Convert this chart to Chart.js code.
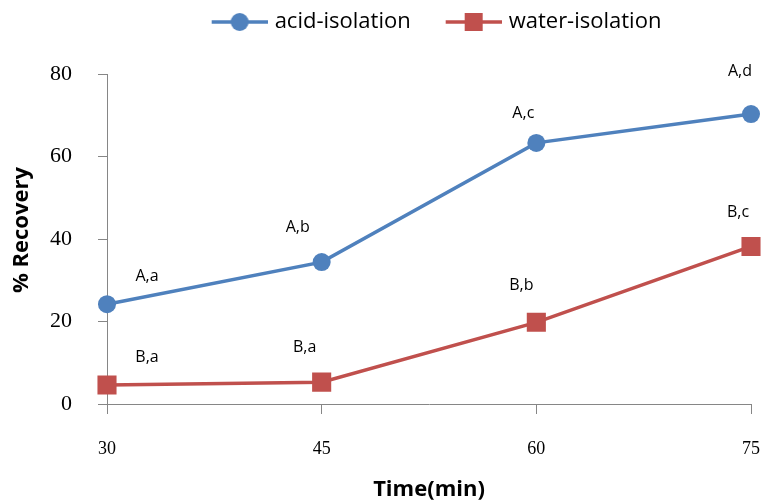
<!DOCTYPE html>
<html>
<head>
<meta charset="utf-8">
<script src="https://cdn.jsdelivr.net/npm/chart.js@4.4.0/dist/chart.umd.min.js"></script>
<style>
  html, body { margin: 0; padding: 0; background: #fff; }
  #wrap { width: 763px; height: 504px; position: relative; }
</style>
</head>
<body>
<div id="wrap"><canvas id="recoveryChart"></canvas></div>
<script>
const times = ['30', '45', '60', '75'];
const acidRecovery = [24.2, 34.4, 63.3, 70.3];
const waterRecovery = [4.6, 5.3, 19.8, 38.2];
const acidLabels = ['A,a', 'A,b', 'A,c', 'A,d'];
const waterLabels = ['B,a', 'B,a', 'B,b', 'B,c'];
const yTitle = '% Recovery';

const BLUE = '#4F81BD';
const RED = '#C0504D';
const AXIS = '#868686';

// pixel offsets of the letter labels from their points
const acidOffsets = [[40, -28], [-24, -35], [-13, -29], [-11, -43]];
const waterOffsets = [[40, -28], [-17, -35], [-15, -37], [-13, -34]];

// legend marker: transparent gap on the left, then line with marker
function legendMarker(color, shape) {
  const c = document.createElement('canvas');
  c.width = 84; c.height = 22;
  const g = c.getContext('2d');
  g.strokeStyle = color;
  g.lineWidth = 3.5;
  g.beginPath(); g.moveTo(28, 11); g.lineTo(84, 11); g.stroke();
  g.fillStyle = color;
  if (shape === 'circle') {
    g.beginPath(); g.arc(56, 11, 9, 0, Math.PI * 2); g.fill();
  } else {
    g.fillRect(47, 2, 18, 18);
  }
  return c;
}

const letterLabels = {
  id: 'letterLabels',
  afterLayout(chart) {
    // legend sits right of centre in the original
    chart.legend.left += 43;
    chart.legend.right += 43;
  },
  afterDatasetsDraw(chart) {
    const ctx = chart.ctx;
    const sets = [[acidLabels, acidOffsets], [waterLabels, waterOffsets]];
    ctx.save();
    ctx.font = '16px "Open Sans"';
    ctx.fillStyle = '#000';
    ctx.textAlign = 'center';
    ctx.textBaseline = 'middle';
    sets.forEach(([labels, offs], di) => {
      chart.getDatasetMeta(di).data.forEach((pt, i) => {
        ctx.fillText(labels[i], pt.x + offs[i][0], pt.y + offs[i][1]);
      });
    });
    // y axis title, a bit above the middle of the plot as in the original
    ctx.translate(22, 230);
    ctx.rotate(-Math.PI / 2);
    ctx.font = 'bold 22px "Open Sans"';
    ctx.fillText(yTitle, 0, 0);
    ctx.restore();
  }
};

const legendSpace = {
  id: 'legendSpace',
  beforeInit(chart) {
    const fit = chart.legend.fit;
    chart.legend.fit = function () {
      fit.bind(chart.legend)();
      this.height += 31;
    };
  }
};

const ctx = document.getElementById('recoveryChart').getContext('2d');
new Chart(ctx, {
  type: 'line',
  data: {
    labels: times,
    datasets: [{
      label: 'acid-isolation',
      data: acidRecovery,
      borderColor: BLUE,
      backgroundColor: BLUE,
      borderWidth: 3.5,
      pointStyle: 'circle',
      pointRadius: 9,
      pointHoverRadius: 9,
      pointBorderWidth: 0,
      legendMarker: legendMarker(BLUE, 'circle')
    }, {
      label: 'water-isolation',
      data: waterRecovery,
      borderColor: RED,
      backgroundColor: RED,
      borderWidth: 3.5,
      pointStyle: 'rect',
      pointRadius: 13.5,
      pointHoverRadius: 13.5,
      pointBorderWidth: 0,
      legendMarker: legendMarker(RED, 'rect')
    }]
  },
  options: {
    responsive: true,
    maintainAspectRatio: false,
    animation: false,
    layout: { autoPadding: false, padding: { left: 0, right: 0, top: 0, bottom: 0 } },
    plugins: {
      tooltip: { enabled: false },
      legend: {
        position: 'top',
        labels: {
          usePointStyle: true,
          pointStyleWidth: 76,
          boxHeight: 22,
          padding: 11,
          color: '#000',
          font: { family: '"Open Sans"', size: 22 },
          generateLabels(chart) {
            return chart.data.datasets.map((ds, i) => ({
              text: ds.label,
              fillStyle: ds.borderColor,
              strokeStyle: ds.borderColor,
              lineWidth: 0,
              pointStyle: ds.legendMarker,
              datasetIndex: i,
              fontColor: '#000'
            }));
          }
        }
      }
    },
    scales: {
      x: {
        offset: false,
        afterFit(scale) {
          scale.height = 100;
          scale.paddingRight = 12;
        },
        grid: { display: true, drawOnChartArea: false, drawTicks: true, tickLength: 10, color: AXIS },
        border: { color: AXIS, width: 1 },
        ticks: { color: '#000', padding: 24, font: { family: '"Liberation Serif"', size: 18 } },
        title: {
          display: true,
          text: 'Time(min)',
          color: '#000',
          padding: { top: 0, bottom: 1 },
          font: { family: '"Open Sans"', size: 22, weight: 'bold' }
        }
      },
      y: {
        min: 0,
        max: 80,
        afterFit(scale) { scale.width = 107; },
        grid: { display: true, drawOnChartArea: false, drawTicks: true, tickLength: 9, color: AXIS },
        border: { color: AXIS, width: 1 },
        ticks: { stepSize: 20, color: '#000', padding: 26, font: { family: '"Liberation Serif"', size: 22 } }
      }
    }
  },
  plugins: [legendSpace, letterLabels]
});
</script>
</body>
</html>
